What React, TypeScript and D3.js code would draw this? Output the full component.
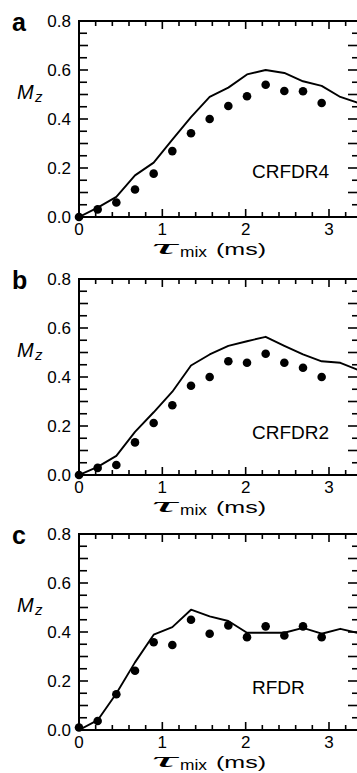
import React from 'react';
import * as d3 from 'd3';

// mixing times (ms) of the measured points and of the simulated curves
const pointTimes = [0, 0.224, 0.448, 0.672, 0.896, 1.12, 1.344, 1.568, 1.792, 2.016, 2.24, 2.464, 2.688, 2.912];
const curveTimes = [0, 0.224, 0.448, 0.672, 0.896, 1.12, 1.344, 1.568, 1.792, 2.016, 2.24, 2.464, 2.688, 2.912, 3.136, 3.36];

const crfdr4Points = [0.0, 0.031, 0.059, 0.112, 0.177, 0.269, 0.342, 0.40, 0.453, 0.493, 0.540, 0.514, 0.513, 0.465];
const crfdr4Curve = [0.0, 0.038, 0.082, 0.17, 0.222, 0.316, 0.408, 0.49, 0.528, 0.582, 0.60, 0.588, 0.554, 0.535, 0.49, 0.465];

const crfdr2Points = [0.0, 0.029, 0.041, 0.133, 0.212, 0.285, 0.364, 0.40, 0.464, 0.458, 0.495, 0.458, 0.438, 0.40];
const crfdr2Curve = [0.0, 0.033, 0.078, 0.176, 0.256, 0.34, 0.447, 0.492, 0.527, 0.546, 0.564, 0.527, 0.492, 0.464, 0.458, 0.427];

const rfdrPoints = [0.01, 0.037, 0.146, 0.242, 0.358, 0.347, 0.45, 0.393, 0.427, 0.379, 0.423, 0.386, 0.423, 0.379];
const rfdrCurve = [0.0, 0.04, 0.149, 0.276, 0.389, 0.42, 0.491, 0.464, 0.445, 0.397, 0.397, 0.397, 0.417, 0.393, 0.413, 0.395];

const panelLetters = ['a', 'b', 'c'];
const sequenceNames = ['CRFDR4', 'CRFDR2', 'RFDR'];
const nameLevels = [0.16, 0.145, 0.145];
const yTickLabels = ['0.0', '0.2', '0.4', '0.6', '0.8'];
const xTickLabels = ['0', '1', '2', '3'];

const FONT = '"Liberation Sans", Arial, Helvetica, sans-serif';
const panelTops = [21, 279, 534];
const plotH = 196;
const left = 79;
const right = 359;

const x = d3.scaleLinear().domain([0, 3.36]).range([left, right]);

function Panel({ top, letter, name, nameLevel, points, curve }: any) {
  const y = d3.scaleLinear().domain([0, 0.8]).range([top + plotH, top]);
  const bottom = top + plotH;
  const line = d3.line<number>()
    .x((_, i) => x(curveTimes[i]))
    .y(d => y(d));

  const yMinor = d3.range(0, 17).map(i => i * 0.05);
  const xMinor = d3.range(0, 17).map(i => i * 0.2);

  return (
    <g>
      <defs>
        <clipPath id={`clip-${letter}`}>
          <rect x={left} y={top} width={right - left} height={plotH} />
        </clipPath>
      </defs>

      {/* ticks, inward */}
      {yMinor.map((v, i) => (
        <line key={`l${i}`} x1={left} x2={left + (i % 2 === 0 ? 9 : 8)} y1={y(v)} y2={y(v)} stroke="#000" strokeWidth={1.6} />
      ))}
      {yMinor.map((v, i) => (
        <line key={`r${i}`} x1={right} x2={right - (i % 2 === 0 ? 11 : 7)} y1={y(v)} y2={y(v)} stroke="#000" strokeWidth={1.6} />
      ))}
      {xMinor.map((t, i) => (
        <g key={`x${i}`}>
          <line x1={x(t)} x2={x(t)} y1={bottom} y2={bottom - (i % 5 === 0 ? 8 : 5)} stroke="#000" strokeWidth={1.6} />
          <line x1={x(t)} x2={x(t)} y1={top} y2={top + (i % 5 === 0 ? 8 : 5)} stroke="#000" strokeWidth={1.6} />
        </g>
      ))}

      {/* frame */}
      <path d={`M${right},${top}H${left}V${bottom}H${right}Z`} fill="none" stroke="#000" strokeWidth={2} />

      {/* simulated curve */}
      <path d={line(curve) || ''} fill="none" stroke="#000" strokeWidth={1.9} strokeLinejoin="round" clipPath={`url(#clip-${letter})`} />

      {/* measured points */}
      {points.map((v: number, i: number) => (
        <circle key={`p${i}`} cx={x(pointTimes[i])} cy={y(v)} r={4.3} fill="#000" />
      ))}

      {/* tick labels */}
      {yTickLabels.map(lbl => (
        <text key={lbl} x={left - 8} y={y(+lbl)} dy="0.36em" textAnchor="end" fontFamily={FONT} fontSize={17}>{lbl}</text>
      ))}
      {xTickLabels.map(lbl => (
        <text key={lbl} x={x(+lbl)} y={bottom + 18} textAnchor="middle" fontFamily={FONT} fontSize={17}>{lbl}</text>
      ))}

      {/* panel letter */}
      <text x={12} y={top + 10} fontFamily={FONT} fontSize={25} fontWeight="bold">{letter}</text>

      {/* y axis title */}
      <text x={17} y={top + 78} fontFamily={FONT} fontSize={20} fontStyle="italic">M</text>
      <text x={35} y={top + 81} fontFamily={FONT} fontSize={15} fontStyle="italic">z</text>

      {/* x axis title */}
      <text x={152} y={bottom + 37} fontFamily='"Liberation Serif", "DejaVu Serif", serif' fontSize={22} fontStyle="italic" textLength={25} lengthAdjust="spacingAndGlyphs">τ</text>
      <text x={180} y={bottom + 40} fontFamily={FONT} fontSize={14} textLength={27} lengthAdjust="spacingAndGlyphs">mix</text>
      <text x={216} y={bottom + 38} fontFamily={FONT} fontSize={16} textLength={50} lengthAdjust="spacingAndGlyphs">(ms)</text>

      {/* sequence name */}
      <text x={x(2.076)} y={y(nameLevel)} fontFamily={FONT} fontSize={19}>{name}</text>
    </g>
  );
}

export default function App() {
  const pointSets = [crfdr4Points, crfdr2Points, rfdrPoints];
  const curveSets = [crfdr4Curve, crfdr2Curve, rfdrCurve];
  return (
    <svg width={357} height={773} style={{ position: 'absolute', left: 0, top: 0, background: '#fff' }}>
      <rect width={357} height={773} fill="#fff" />
      {panelTops.map((top, i) => (
        <Panel
          key={i}
          top={top}
          letter={panelLetters[i]}
          name={sequenceNames[i]}
          nameLevel={nameLevels[i]}
          points={pointSets[i]}
          curve={curveSets[i]}
        />
      ))}
    </svg>
  );
}
